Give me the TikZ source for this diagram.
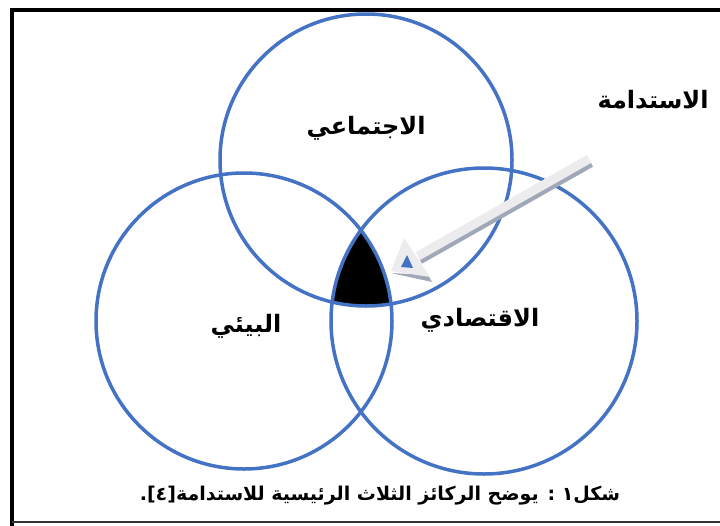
\documentclass[tikz,border=0pt]{standalone}
\usepackage{fontspec}
\newfontfamily\arfont[Script=Arabic]{DejaVu Sans}
\TeXXeTstate=1
\definecolor{ringblue}{RGB}{68,114,196}
\definecolor{shaftlight}{RGB}{236,236,238}
\definecolor{shaftdark}{RGB}{160,168,184}
\begin{document}
\begin{tikzpicture}[x=1pt,y=-1pt,
  ring/.style={circle,draw=ringblue,line width=3.5pt,inner sep=0pt},
  lab/.style={font=\arfont\bfseries\fontsize{24}{28}\selectfont,inner sep=0pt},
  captext/.style={font=\arfont\bfseries\fontsize{19}{22}\selectfont,inner sep=0pt}]
\useasboundingbox (0,0) rectangle (720,525);
% frame
\draw[line width=3.5pt] (12,526) -- (12,10) -- (721,10);
\draw[line width=2pt,black!80] (12,522) -- (721,522);
% circle centres
\coordinate (ct) at (366,160);
\coordinate (cl) at (244,321);
\coordinate (cr) at (484,321);
% common region
\begin{scope}
\clip (ct) circle (146);
\clip (cl) circle (148);
\fill[black] (cr) circle (153);
\end{scope}
\node[ring,minimum size=292pt] (social) at (ct) {};
\node[ring,minimum size=296pt] (env) at (cl) {};
\node[ring,minimum size=306pt] (econ) at (cr) {};
% labels
\node[lab] (lsocial) at (366,128) {\beginR الاجتماعي\endR};
\node[lab] (lenv) at (246,326) {\beginR البيئي\endR};
\node[lab] (lecon) at (480,320) {\beginR الاقتصادي\endR};
\node[lab] (lsus) at (653,100) {\beginR الاستدامة\endR};
\node[captext] (caption) at (380,496) {\beginR شكل١ : يوضح الركائز الثلاث الرئيسية للاستدامة[٤].\endR};
% arrow
\coordinate (atail) at (589,159);
\coordinate (ahead) at (418,256);
\coordinate (atip) at (391,271);
\draw[shaftdark,line width=5pt] ([shift={(2.8,5.5)}]atail) -- ([shift={(2.8,5.5)}]ahead);
\draw[shaftlight,line width=9pt] (atail) -- (ahead);
\fill[shaftdark] (391,273) -- (432,282) -- (428,275) -- cycle;
\fill[shaftlight] (atip) -- (404,238) -- (430,277) -- cycle;
\fill[ringblue] (401,267) -- (407,255) -- (413,268) -- cycle;
\end{tikzpicture}
\end{document}
